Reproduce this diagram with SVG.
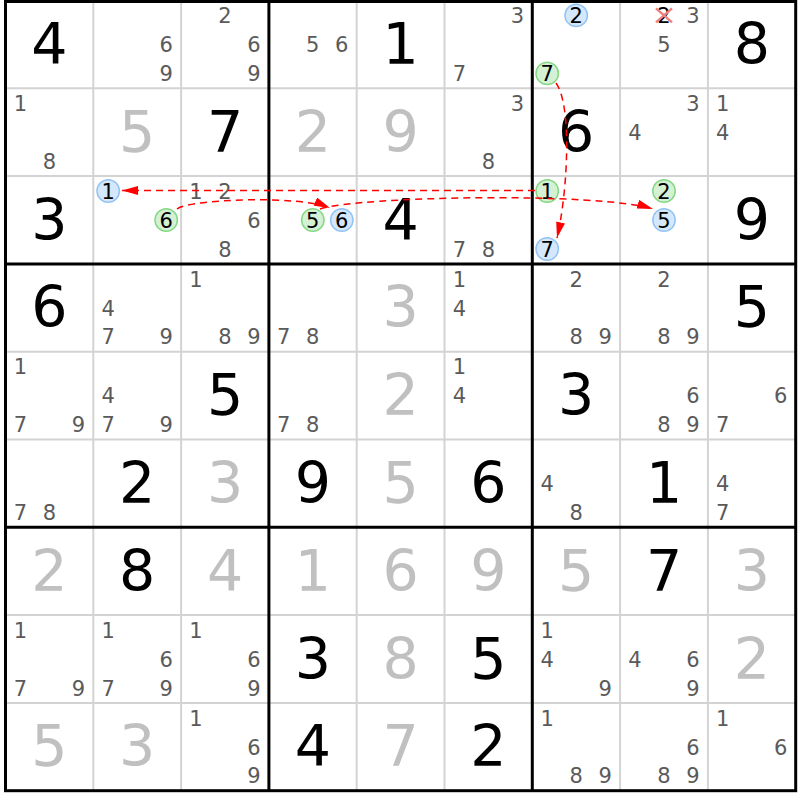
<svg xmlns="http://www.w3.org/2000/svg" width="800" height="800" viewBox="0 0 800 800">
<style>
text{font-family:"DejaVu Sans","Liberation Sans",sans-serif;text-anchor:middle}
.g{font-size:57px;fill:#000}
.s{font-size:57px;fill:#c0c0c0}
.c{font-size:21px;fill:#5a5a5a}
.k{font-size:21px;fill:#000}
.cb{fill:#d5e7fb;stroke:#93c4f4;stroke-width:1.5}
.cg{fill:#d4f1d4;stroke:#86d886;stroke-width:1.5}
.thin{stroke:#d3d3d3;stroke-width:2}
.thick{stroke:#000;stroke-width:3}
.arr{fill:none;stroke:#ff0000;stroke-width:1.5;stroke-dasharray:7,5;marker-end:url(#ah)}
.x{stroke:#f08080;stroke-width:2.5}
</style>
<defs>
<marker id="ah" markerWidth="16" markerHeight="9" refX="16" refY="4.5" orient="auto" markerUnits="userSpaceOnUse"><path d="M0,0 L16,4.5 L0,9 z" fill="#ff0000"/></marker>
</defs>
<rect x="0" y="0" width="800" height="800" fill="#fff"/>
<g id="grid">
<g class="thin">
<line x1="93.3" y1="0.5" x2="93.3" y2="790.7"/><line x1="181.1" y1="0.5" x2="181.1" y2="790.7"/>
<line x1="356.7" y1="0.5" x2="356.7" y2="790.7"/><line x1="444.5" y1="0.5" x2="444.5" y2="790.7"/>
<line x1="620.1" y1="0.5" x2="620.1" y2="790.7"/><line x1="707.9" y1="0.5" x2="707.9" y2="790.7"/>
<line x1="5.5" y1="88.3" x2="795.7" y2="88.3"/><line x1="5.5" y1="176.1" x2="795.7" y2="176.1"/>
<line x1="5.5" y1="351.7" x2="795.7" y2="351.7"/><line x1="5.5" y1="439.5" x2="795.7" y2="439.5"/>
<line x1="5.5" y1="615.1" x2="795.7" y2="615.1"/><line x1="5.5" y1="702.9" x2="795.7" y2="702.9"/>
</g>
<g class="thick">
<line x1="268.9" y1="0.5" x2="268.9" y2="790.7"/><line x1="532.3" y1="0.5" x2="532.3" y2="790.7"/>
<line x1="5.5" y1="263.9" x2="795.7" y2="263.9"/><line x1="5.5" y1="527.3" x2="795.7" y2="527.3"/>
<rect x="5.5" y="1.5" width="790.2" height="789.2" fill="none"/>
</g>
</g>
<g id="cells">
<g id="r0c0" transform="translate(49.4,44.4)"><text class="g" y="19.5">4</text></g>
<g id="r0c1" transform="translate(137.2,44.4)"><text class="c" x="29" y="7.7">6</text><text class="c" x="29" y="36.7">9</text></g>
<g id="r0c2" transform="translate(225,44.4)"><text class="c" x="0" y="-21.3">2</text><text class="c" x="29" y="7.7">6</text><text class="c" x="29" y="36.7">9</text></g>
<g id="r0c3" transform="translate(312.8,44.4)"><text class="c" x="0" y="7.7">5</text><text class="c" x="29" y="7.7">6</text></g>
<g id="r0c4" transform="translate(400.6,44.4)"><text class="g" y="19.5">1</text></g>
<g id="r0c5" transform="translate(488.4,44.4)"><text class="c" x="29" y="-21.3">3</text><text class="c" x="-29" y="36.7">7</text></g>
<g id="r0c6" transform="translate(576.2,44.4)"><circle class="cb" cx="0" cy="-29" r="11.2"/><text class="k" x="0" y="-21.3">2</text><circle class="cg" cx="-29" cy="29" r="11.2"/><text class="k" x="-29" y="36.7">7</text></g>
<g id="r0c7" transform="translate(664,44.4)"><text class="k" x="0" y="-21.3">2</text><line class="x" x1="-8" y1="-36" x2="8" y2="-22"/><line class="x" x1="-8" y1="-22" x2="8" y2="-36"/><text class="c" x="29" y="-21.3">3</text><text class="c" x="0" y="7.7">5</text></g>
<g id="r0c8" transform="translate(751.8,44.4)"><text class="g" y="19.5">8</text></g>
<g id="r1c0" transform="translate(49.4,132.2)"><text class="c" x="-29" y="-21.3">1</text><text class="c" x="0" y="36.7">8</text></g>
<g id="r1c1" transform="translate(137.2,132.2)"><text class="s" y="19.5">5</text></g>
<g id="r1c2" transform="translate(225,132.2)"><text class="g" y="19.5">7</text></g>
<g id="r1c3" transform="translate(312.8,132.2)"><text class="s" y="19.5">2</text></g>
<g id="r1c4" transform="translate(400.6,132.2)"><text class="s" y="19.5">9</text></g>
<g id="r1c5" transform="translate(488.4,132.2)"><text class="c" x="29" y="-21.3">3</text><text class="c" x="0" y="36.7">8</text></g>
<g id="r1c6" transform="translate(576.2,132.2)"><text class="g" y="19.5">6</text></g>
<g id="r1c7" transform="translate(664,132.2)"><text class="c" x="29" y="-21.3">3</text><text class="c" x="-29" y="7.7">4</text></g>
<g id="r1c8" transform="translate(751.8,132.2)"><text class="c" x="-29" y="-21.3">1</text><text class="c" x="-29" y="7.7">4</text></g>
<g id="r2c0" transform="translate(49.4,220)"><text class="g" y="19.5">3</text></g>
<g id="r2c1" transform="translate(137.2,220)"><circle class="cb" cx="-29" cy="-29" r="11.2"/><text class="k" x="-29" y="-21.3">1</text><circle class="cg" cx="29" cy="0" r="11.2"/><text class="k" x="29" y="7.7">6</text></g>
<g id="r2c2" transform="translate(225,220)"><text class="c" x="-29" y="-21.3">1</text><text class="c" x="0" y="-21.3">2</text><text class="c" x="29" y="7.7">6</text><text class="c" x="0" y="36.7">8</text></g>
<g id="r2c3" transform="translate(312.8,220)"><circle class="cg" cx="0" cy="0" r="11.2"/><text class="k" x="0" y="7.7">5</text><circle class="cb" cx="29" cy="0" r="11.2"/><text class="k" x="29" y="7.7">6</text></g>
<g id="r2c4" transform="translate(400.6,220)"><text class="g" y="19.5">4</text></g>
<g id="r2c5" transform="translate(488.4,220)"><text class="c" x="-29" y="36.7">7</text><text class="c" x="0" y="36.7">8</text></g>
<g id="r2c6" transform="translate(576.2,220)"><circle class="cg" cx="-29" cy="-29" r="11.2"/><text class="k" x="-29" y="-21.3">1</text><circle class="cb" cx="-29" cy="29" r="11.2"/><text class="k" x="-29" y="36.7">7</text></g>
<g id="r2c7" transform="translate(664,220)"><circle class="cg" cx="0" cy="-29" r="11.2"/><text class="k" x="0" y="-21.3">2</text><circle class="cb" cx="0" cy="0" r="11.2"/><text class="k" x="0" y="7.7">5</text></g>
<g id="r2c8" transform="translate(751.8,220)"><text class="g" y="19.5">9</text></g>
<g id="r3c0" transform="translate(49.4,307.8)"><text class="g" y="19.5">6</text></g>
<g id="r3c1" transform="translate(137.2,307.8)"><text class="c" x="-29" y="7.7">4</text><text class="c" x="-29" y="36.7">7</text><text class="c" x="29" y="36.7">9</text></g>
<g id="r3c2" transform="translate(225,307.8)"><text class="c" x="-29" y="-21.3">1</text><text class="c" x="0" y="36.7">8</text><text class="c" x="29" y="36.7">9</text></g>
<g id="r3c3" transform="translate(312.8,307.8)"><text class="c" x="-29" y="36.7">7</text><text class="c" x="0" y="36.7">8</text></g>
<g id="r3c4" transform="translate(400.6,307.8)"><text class="s" y="19.5">3</text></g>
<g id="r3c5" transform="translate(488.4,307.8)"><text class="c" x="-29" y="-21.3">1</text><text class="c" x="-29" y="7.7">4</text></g>
<g id="r3c6" transform="translate(576.2,307.8)"><text class="c" x="0" y="-21.3">2</text><text class="c" x="0" y="36.7">8</text><text class="c" x="29" y="36.7">9</text></g>
<g id="r3c7" transform="translate(664,307.8)"><text class="c" x="0" y="-21.3">2</text><text class="c" x="0" y="36.7">8</text><text class="c" x="29" y="36.7">9</text></g>
<g id="r3c8" transform="translate(751.8,307.8)"><text class="g" y="19.5">5</text></g>
<g id="r4c0" transform="translate(49.4,395.6)"><text class="c" x="-29" y="-21.3">1</text><text class="c" x="-29" y="36.7">7</text><text class="c" x="29" y="36.7">9</text></g>
<g id="r4c1" transform="translate(137.2,395.6)"><text class="c" x="-29" y="7.7">4</text><text class="c" x="-29" y="36.7">7</text><text class="c" x="29" y="36.7">9</text></g>
<g id="r4c2" transform="translate(225,395.6)"><text class="g" y="19.5">5</text></g>
<g id="r4c3" transform="translate(312.8,395.6)"><text class="c" x="-29" y="36.7">7</text><text class="c" x="0" y="36.7">8</text></g>
<g id="r4c4" transform="translate(400.6,395.6)"><text class="s" y="19.5">2</text></g>
<g id="r4c5" transform="translate(488.4,395.6)"><text class="c" x="-29" y="-21.3">1</text><text class="c" x="-29" y="7.7">4</text></g>
<g id="r4c6" transform="translate(576.2,395.6)"><text class="g" y="19.5">3</text></g>
<g id="r4c7" transform="translate(664,395.6)"><text class="c" x="29" y="7.7">6</text><text class="c" x="0" y="36.7">8</text><text class="c" x="29" y="36.7">9</text></g>
<g id="r4c8" transform="translate(751.8,395.6)"><text class="c" x="29" y="7.7">6</text><text class="c" x="-29" y="36.7">7</text></g>
<g id="r5c0" transform="translate(49.4,483.4)"><text class="c" x="-29" y="36.7">7</text><text class="c" x="0" y="36.7">8</text></g>
<g id="r5c1" transform="translate(137.2,483.4)"><text class="g" y="19.5">2</text></g>
<g id="r5c2" transform="translate(225,483.4)"><text class="s" y="19.5">3</text></g>
<g id="r5c3" transform="translate(312.8,483.4)"><text class="g" y="19.5">9</text></g>
<g id="r5c4" transform="translate(400.6,483.4)"><text class="s" y="19.5">5</text></g>
<g id="r5c5" transform="translate(488.4,483.4)"><text class="g" y="19.5">6</text></g>
<g id="r5c6" transform="translate(576.2,483.4)"><text class="c" x="-29" y="7.7">4</text><text class="c" x="0" y="36.7">8</text></g>
<g id="r5c7" transform="translate(664,483.4)"><text class="g" y="19.5">1</text></g>
<g id="r5c8" transform="translate(751.8,483.4)"><text class="c" x="-29" y="7.7">4</text><text class="c" x="-29" y="36.7">7</text></g>
<g id="r6c0" transform="translate(49.4,571.2)"><text class="s" y="19.5">2</text></g>
<g id="r6c1" transform="translate(137.2,571.2)"><text class="g" y="19.5">8</text></g>
<g id="r6c2" transform="translate(225,571.2)"><text class="s" y="19.5">4</text></g>
<g id="r6c3" transform="translate(312.8,571.2)"><text class="s" y="19.5">1</text></g>
<g id="r6c4" transform="translate(400.6,571.2)"><text class="s" y="19.5">6</text></g>
<g id="r6c5" transform="translate(488.4,571.2)"><text class="s" y="19.5">9</text></g>
<g id="r6c6" transform="translate(576.2,571.2)"><text class="s" y="19.5">5</text></g>
<g id="r6c7" transform="translate(664,571.2)"><text class="g" y="19.5">7</text></g>
<g id="r6c8" transform="translate(751.8,571.2)"><text class="s" y="19.5">3</text></g>
<g id="r7c0" transform="translate(49.4,659)"><text class="c" x="-29" y="-21.3">1</text><text class="c" x="-29" y="36.7">7</text><text class="c" x="29" y="36.7">9</text></g>
<g id="r7c1" transform="translate(137.2,659)"><text class="c" x="-29" y="-21.3">1</text><text class="c" x="29" y="7.7">6</text><text class="c" x="-29" y="36.7">7</text><text class="c" x="29" y="36.7">9</text></g>
<g id="r7c2" transform="translate(225,659)"><text class="c" x="-29" y="-21.3">1</text><text class="c" x="29" y="7.7">6</text><text class="c" x="29" y="36.7">9</text></g>
<g id="r7c3" transform="translate(312.8,659)"><text class="g" y="19.5">3</text></g>
<g id="r7c4" transform="translate(400.6,659)"><text class="s" y="19.5">8</text></g>
<g id="r7c5" transform="translate(488.4,659)"><text class="g" y="19.5">5</text></g>
<g id="r7c6" transform="translate(576.2,659)"><text class="c" x="-29" y="-21.3">1</text><text class="c" x="-29" y="7.7">4</text><text class="c" x="29" y="36.7">9</text></g>
<g id="r7c7" transform="translate(664,659)"><text class="c" x="-29" y="7.7">4</text><text class="c" x="29" y="7.7">6</text><text class="c" x="29" y="36.7">9</text></g>
<g id="r7c8" transform="translate(751.8,659)"><text class="s" y="19.5">2</text></g>
<g id="r8c0" transform="translate(49.4,746.8)"><text class="s" y="19.5">5</text></g>
<g id="r8c1" transform="translate(137.2,746.8)"><text class="s" y="19.5">3</text></g>
<g id="r8c2" transform="translate(225,746.8)"><text class="c" x="-29" y="-21.3">1</text><text class="c" x="29" y="7.7">6</text><text class="c" x="29" y="36.7">9</text></g>
<g id="r8c3" transform="translate(312.8,746.8)"><text class="g" y="19.5">4</text></g>
<g id="r8c4" transform="translate(400.6,746.8)"><text class="s" y="19.5">7</text></g>
<g id="r8c5" transform="translate(488.4,746.8)"><text class="g" y="19.5">2</text></g>
<g id="r8c6" transform="translate(576.2,746.8)"><text class="c" x="-29" y="-21.3">1</text><text class="c" x="0" y="36.7">8</text><text class="c" x="29" y="36.7">9</text></g>
<g id="r8c7" transform="translate(664,746.8)"><text class="c" x="29" y="7.7">6</text><text class="c" x="0" y="36.7">8</text><text class="c" x="29" y="36.7">9</text></g>
<g id="r8c8" transform="translate(751.8,746.8)"><text class="c" x="-29" y="-21.3">1</text><text class="c" x="29" y="7.7">6</text></g>
</g>
<g id="connectors">
<path class="arr" d="M535,190.5 L122,190.5"/>
<path class="arr" d="M177,209 C190,199 300,195 330,208"/>
<path class="arr" d="M320,209 C360,196 600,192 653,209"/>
<path class="arr" d="M556,83 C572,105 568,190 557,238"/>
</g>
</svg>
